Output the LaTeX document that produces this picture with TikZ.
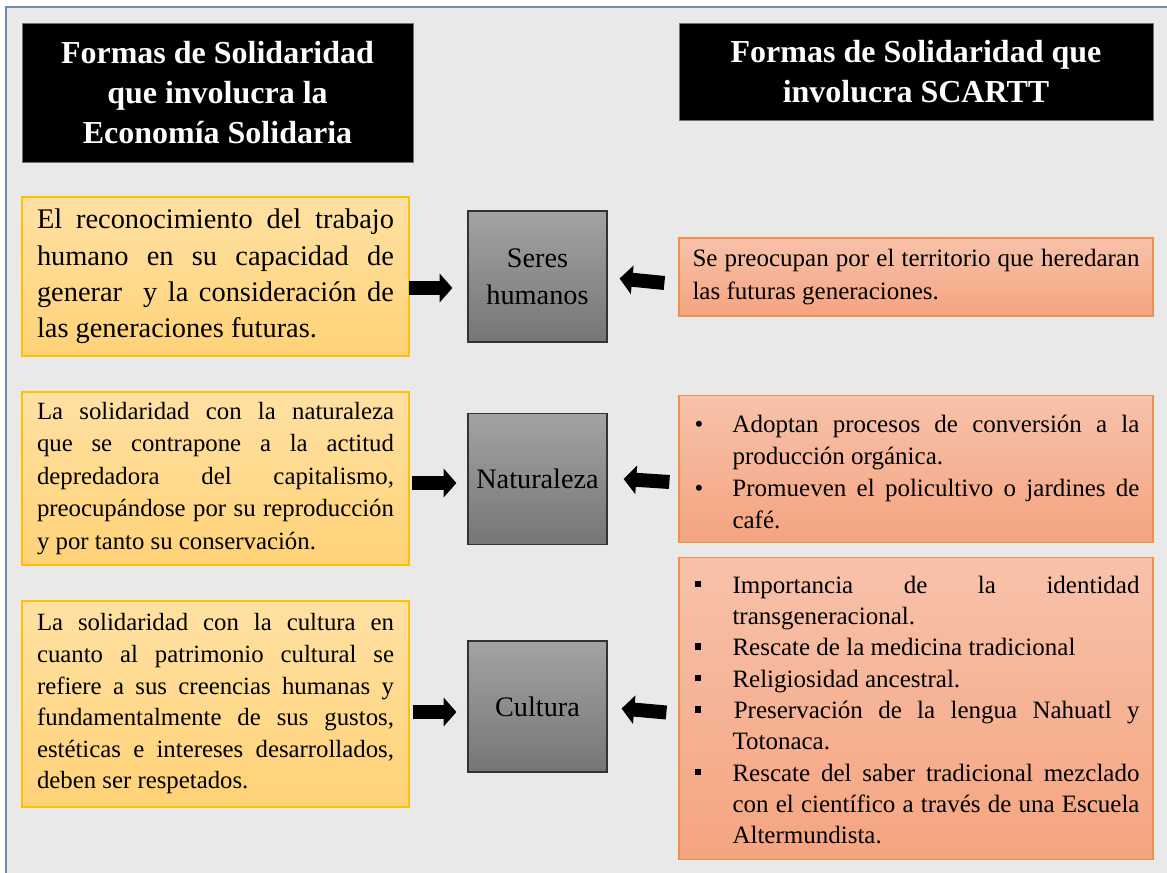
\documentclass[tikz,border=0pt]{standalone}
\usepackage{fontspec}
\setmainfont{Liberation Serif}
\usetikzlibrary{arrows.meta,calc}
\definecolor{bgc}{HTML}{E9E9E9}
\definecolor{framec}{HTML}{6D8DB3}
\definecolor{ytop}{HTML}{FFE1A3}
\definecolor{ybot}{HTML}{FFD277}
\definecolor{yedge}{HTML}{FFC000}
\definecolor{otop}{HTML}{F7C2AA}
\definecolor{obot}{HTML}{F5A480}
\definecolor{oedge}{HTML}{F0904F}
\definecolor{gtop}{HTML}{A3A3A3}
\definecolor{gbot}{HTML}{767676}
\tikzset{
  titlebox/.style={fill=black,draw=black!55,line width=0.6pt,text=white,align=center,
     font=\fontsize{24}{30}\selectfont\bfseries,inner sep=0pt},
  ybox/.style={top color=ytop,bottom color=ybot,draw=yedge,line width=0.9pt,
     text width=267.75pt,inner xsep=11.25pt,minimum width=290.25pt,align=justify},
  gbox/.style={top color=gtop,bottom color=gbot,draw=black!80,line width=0.9pt,
     minimum width=104.25pt,minimum height=98.25pt,align=center,
     font=\fontsize{21.2}{27.75}\selectfont,inner sep=0pt},
  obox/.style={top color=otop,bottom color=obot,draw=oedge,line width=0.9pt,
     text width=335.25pt,inner xsep=10.125pt,minimum width=355.5pt,align=justify,
     font=\fontsize{18.75}{24}\selectfont},
  blockarrow/.style={draw=black,line width=10.5pt,-{Triangle[length=9.5pt,width=21pt]}},
}
\newcommand{\dotitem}{\par\noindent\hangindent=30pt\hangafter=1\makebox[30pt][l]{\hspace{1.5pt}•}}
\newcommand{\sqitem}{\par\noindent\hangindent=30pt\hangafter=1\makebox[30pt][l]{\hspace{1.5pt}\raisebox{4.5pt}{\rule{5pt}{5pt}}}}
\begin{document}
\begin{tikzpicture}[x=0.75pt,y=-0.75pt]
\useasboundingbox (0,0) rectangle (1167,873);
\fill[bgc] (6,7) rectangle (1167,873);
\draw[framec,line width=1.5pt] (6,873) -- (6,7) -- (1167,7);

% titles
\node[titlebox,minimum width=293.25pt,minimum height=104.25pt] (t1) at (217.5,92.5)
  {Formas de Solidaridad\\que involucra la\\Economía Solidaria};
\node[titlebox,minimum width=355.5pt,minimum height=72.75pt] (t2) at (916,71.5)
  {Formas de Solidaridad que\\involucra SCARTT};

% left yellow boxes
\node[ybox,minimum height=119.25pt,font=\fontsize{21.3}{27.2}\selectfont] (y1) at (215.5,276.5)
  {El reconocimiento del trabajo\linebreak humano en su capacidad de\linebreak generar\ \ y la consideración de\linebreak las generaciones futuras.};
\node[ybox,minimum height=129.75pt,font=\fontsize{18.6}{24.4}\selectfont] (y2) at (215.5,478.5)
  {La solidaridad con la naturaleza\linebreak que se contrapone a la actitud\linebreak depredadora del capitalismo,\linebreak preocupándose por su reproducción\linebreak y por tanto su conservación.};
\node[ybox,minimum height=154.5pt,font=\fontsize{18.6}{23.7}\selectfont] (y3) at (215.5,704)
  {La solidaridad con la cultura en\linebreak cuanto al patrimonio cultural se\linebreak refiere a sus creencias humanas y\linebreak fundamentalmente de sus gustos,\linebreak estéticas e intereses desarrollados,\linebreak deben ser respetados.};

% centre grey boxes
\node[gbox] (g1) at (537.5,276.5) {Seres\\humanos};
\node[gbox] (g2) at (537.5,479) {Naturaleza};
\node[gbox] (g3) at (537.5,706.5) {Cultura};

% right boxes
\node[obox,minimum height=58.5pt,font=\fontsize{18.75}{24.4}\selectfont] (r1) at (916,277)
  {Se preocupan por el territorio que heredaran\linebreak las futuras generaciones.};
\node[obox,minimum height=106.5pt] (r2) at (916,469)
  {\dotitem Adoptan procesos de conversión a la\linebreak producción orgánica.
   \dotitem Promueven el policultivo o jardines de\linebreak café.\par\kern7pt};
\node[obox,minimum height=225.75pt,font=\fontsize{18.75}{23.5}\selectfont] (r3) at (916,708.5)
  {\sqitem Importancia de la identidad\linebreak transgeneracional.
   \sqitem Rescate de la medicina tradicional
   \sqitem Religiosidad ancestral.
   \sqitem \hspace{1pt}Preservación de la lengua Nahuatl y\linebreak Totonaca.
   \sqitem Rescate del saber tradicional mezclado\linebreak con el científico a través de una Escuela\linebreak Altermundista.\par\kern8pt};

% arrows left -> centre
\draw[blockarrow] ($(y1.east)+(-1,11.5)$) -- ($(g1.west)+(-15,11.5)$);
\draw[blockarrow] ($(y2.east)+(2,4.5)$) -- ($(g2.west)+(-11,4)$);
\draw[blockarrow] ($(y3.east)+(3,8)$) -- ($(g3.west)+(-11,5.5)$);
% arrows right -> centre
\draw[blockarrow] ($(r1.west)+(-14,6)$) -- ($(g1.east)+(12,2)$);
\draw[blockarrow] ($(r2.west)+(-9,13)$) -- ($(g2.east)+(16,0)$);
\draw[blockarrow] ($(r3.west)+(-12,4)$) -- ($(g3.east)+(14,2)$);
\end{tikzpicture}
\end{document}
